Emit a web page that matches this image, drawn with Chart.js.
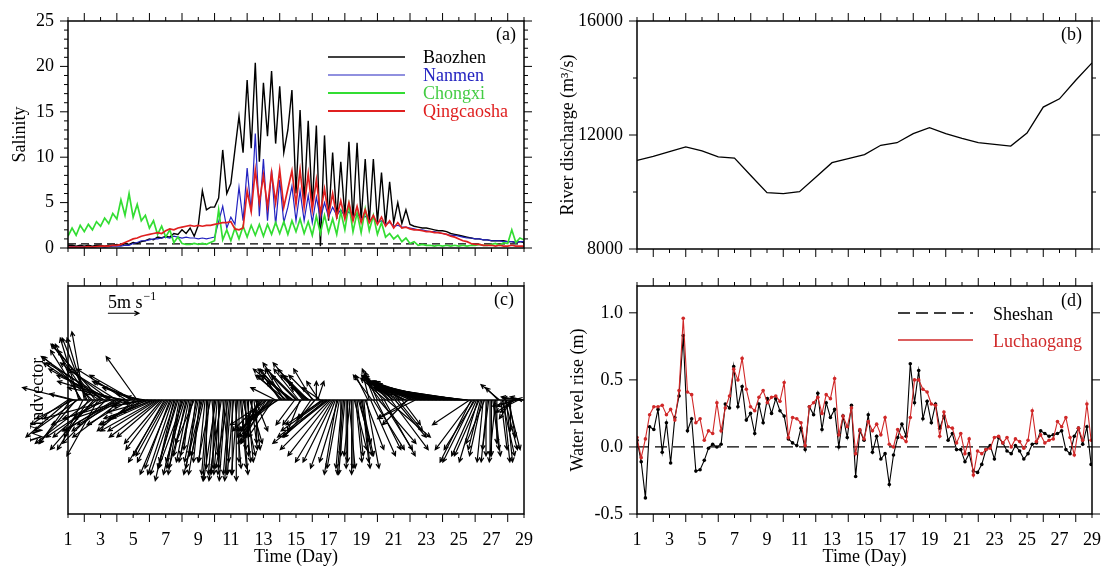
<!DOCTYPE html>
<html><head><meta charset="utf-8">
<script src="https://cdn.jsdelivr.net/npm/chart.js@4"></script>
<style>
html,body{margin:0;padding:0;background:#fff;}
body{width:1102px;height:569px;position:relative;overflow:hidden;}
canvas{position:absolute;}
</style></head><body>
<canvas id="ca" width="551" height="270" style="left:0;top:0"></canvas>
<canvas id="cb" width="551" height="270" style="left:551px;top:0"></canvas>
<canvas id="cc" width="551" height="299" style="left:0;top:270px"></canvas>
<canvas id="cd" width="551" height="299" style="left:551px;top:270px"></canvas>
<script>
// ---------- DATA ----------
const dayLabels = [1,3,5,7,9,11,13,15,17,19,21,23,25,27,29];
const dayMajorTicks = [2,4,6,8,10,12,14,16,18,20,22,24,26,28];
const dayMinorTicks = [1,3,5,7,9,11,13,15,17,19,21,23,25,27,29];

// (a) salinity, 6-hourly from day 1 to day 29
const salTimes = Array.from({length:113}, (_, i) => 1 + i/4);
const baozhen = [0.3,0.3,0.2,0.3, 0.2,0.3,0.2,0.3, 0.3,0.2,0.3,0.3, 0.4,0.3,0.5,0.4, 0.6,0.5,0.7,0.8,
 1.0,0.9,1.2,1.1, 1.3,1.2,1.6,1.5, 2.0,1.6,2.2,1.3, 2.5,6.3,4.2,4.5, 4.5,5.5,10.8,6.0,
 7.1,10.8,14.5,10.5, 18.5,11.0,20.4,9.5, 18.2,12.3,19.5,11.5, 17.8,10.5,13.0,17.4, 6.0,15.2,5.0,14.0,
 4.5,13.5,0.2,12.4, 3.0,10.5,3.2,9.5, 3.5,11.7,3.0,11.6, 3.0,9.8,2.8,9.8, 2.8,8.3,2.6,7.3,
 2.8,5.0,2.7,4.2, 2.6,2.4,2.3,2.2, 2.2,2.1,2.0,1.9, 1.9,1.8,1.6,1.5, 1.4,1.3,1.2,1.1,
 1.0,1.0,0.9,0.9, 0.8,0.8,0.8,0.8, 0.7,0.7,0.6,0.7, 0.6];
const nanmen = [0.1,0.15,0.1,0.15, 0.1,0.15,0.1,0.15, 0.15,0.1,0.15,0.2, 0.2,0.2,0.3,0.3, 0.5,0.6,0.8,0.8,
 0.9,1.0,1.0,1.1, 1.2,1.1,1.3,1.2, 1.1,1.2,1.1,1.1, 1.0,1.1,1.0,1.1, 1.2,2.9,4.6,2.2,
 3.4,2.6,6.7,3.0, 8.8,4.0,12.6,3.5, 9.8,3.0,8.6,2.5, 7.5,2.8,4.5,6.8, 3.0,6.3,3.0,5.8,
 2.8,5.6,3.2,5.0, 3.4,4.5,3.6,4.2, 3.5,4.0,3.4,3.8, 3.2,3.5,3.0,3.3, 2.8,3.0,2.6,2.8,
 2.4,2.5,2.3,2.3, 2.2,2.1,2.0,2.0, 1.9,1.8,1.8,1.7, 1.6,1.5,1.4,1.4, 1.3,1.2,1.1,1.1,
 1.0,1.0,0.9,0.9, 0.8,0.8,0.8,0.7, 0.7,0.7,0.6,0.7, 0.7];
const chongxi = [1.3,2.2,1.4,2.5, 1.8,2.6,2.0,2.9, 2.4,3.3,2.7,3.8, 3.2,5.3,3.6,6.0, 3.4,4.8,3.0,3.6,
 2.2,3.0,1.5,2.4, 1.2,2.0,0.6,1.2, 0.5,0.4,0.4,0.5, 0.4,0.5,0.4,0.6, 0.8,4.2,0.9,2.0,
 0.8,2.2,1.0,2.4, 1.2,2.5,1.4,2.6, 1.3,2.6,1.5,2.8, 1.6,2.9,1.5,3.0, 1.8,3.2,1.6,2.9,
 1.4,3.5,1.6,3.6, 1.7,3.2,1.5,4.0, 2.0,4.8,1.8,3.9, 1.7,4.3,1.9,3.6, 1.5,2.8,1.2,1.6,
 1.0,1.4,0.7,1.1, 0.5,0.7,0.3,0.4, 0.3,0.3,0.2,0.3, 0.2,0.3,0.2,0.3, 0.2,0.3,0.2,0.3,
 0.3,0.4,0.3,0.3, 0.4,0.5,0.3,0.6, 0.5,2.0,0.6,1.1, 0.9];
const qingcaosha = [0.1,0.1,0.1,0.1, 0.1,0.15,0.1,0.15, 0.2,0.2,0.2,0.3, 0.3,0.4,0.6,0.8, 1.0,1.1,1.3,1.4,
 1.5,1.6,1.7,1.6, 1.9,2.1,2.0,2.2, 2.3,2.4,2.5,2.4, 2.5,2.4,2.5,2.5, 2.6,2.7,2.8,2.8,
 2.9,2.1,2.0,2.2, 6.3,4.0,8.6,5.0, 8.0,4.5,8.3,5.0, 8.6,4.5,6.5,8.5, 4.8,8.6,4.5,8.2,
 4.2,7.5,3.8,6.5, 3.6,6.0,3.4,5.2, 3.2,5.0,3.0,4.6, 2.8,4.2,2.8,3.6, 2.6,3.4,2.4,3.0,
 2.2,2.8,2.2,2.3, 2.1,2.0,2.0,1.9, 1.8,1.8,1.7,1.7, 1.6,1.5,1.3,1.2, 1.0,0.8,0.7,0.5,
 0.4,0.4,0.3,0.3, 0.3,0.2,0.3,0.2, 0.2,0.3,0.2,0.2, 0.2];
const salThreshold = 0.45;
const salYLabels = [0,5,10,15,20,25];
const salYMinor = [1,2,3,4,6,7,8,9,11,12,13,14,16,17,18,19,21,22,23,24];

// (b) river discharge, daily
const qDays = [1,2,3,4,5,6,7,8,9,10,11,12,13,14,15,16,17,18,19,20,21,22,23,24,25,26,27,28,29];
const discharge = [11110,11250,11420,11580,11440,11230,11190,10580,9975,9940,10010,10520,11030,11170,
 11310,11640,11730,12050,12260,12050,11880,11730,11670,11610,12070,12980,13270,13920,14530];
const qYLabels = [8000,12000,16000];
const qYMinor = [10000,14000];

// (c) wind vectors, 2-hourly (m/s)
const windTimes = Array.from({length:337}, (_, i) => 1 + i/12);
const windU = [
 -6,-7,-5,-8,-6,-4,-6,-7,-3,-4,-5,-3,
 -2,-3,-4,-5,-6,-9,-8,-7,-6,-7,-5,-9,
 -8,-9,-10,-9,-7,-9,-10,-8,-11,-9,-8,-7,
 -8,-9,-10,-7,-8,-9,-10,-8,-7,-9,-7,-6,
 -7,-6,-7,-5,-6,-6,-4,-5,-5,-3,-4,-4,
 -6,-7,-7,-8,-9,-9,-8,-8,-7,-6,-6,-5,
 -6,-5,-5,-4,-5,-4,-3,-4,-3,-3,-2,-2,
 -3,-4,-3,-2,-3,-2,-1,-2,-2,-3,-1,-2,
 -2,-1,-2,-3,-2,-1,0,-1,-1,-2,1,0,
 -1,-2,-1,0,-1,-2,1,-1,-1,0,-2,-1,
 -1,0,-1,1,0,-1,0,1,1,2,1,0,
 1,0,2,1,-1,1,2,0,-2,-3,-3,-4,
 -5,-4,-4,-6,-5,-5,-3,-4,-6,-4,-5,-5,
 -2,-3,-4,-3,-4,-5,-4,-5,-6,-5,-4,-3,
 -4,-5,-4,-2,-3,-4,-5,-4,-3,-4,-3,-2,
 -3,-4,-5,0,1,-2,-3,-4,-6,-7,-7,-8,
 -9,-8,-7,-6,-5,-4,-2,-3,-2,0,-1,-1,
 -1,0,0,1,-1,0,0,2,1,1,2,2,
 2,1,1,3,2,-2,-1,4,-3,5,-2,4,
 -2,6,-3,5,-3,5,-4,7,-3,-4,6,-3,
 -4,5,-5,4,-5,-4,3,-5,-6,-6,-4,-5,
 -6,-5,-6,-7,-6,-7,-7,-8,-7,-8,-8,-7,
 -8,-9,-9,-8,-9,-9,-10,-10,-9,-10,-10,-11,
 -10,-11,-11,-11,-12,-12,-11,-12,-12,-13,-12,-12,
 -13,-12,-13,-13,-14,-13,-13,-14,-6,-5,-6,-5,
 -5,-4,-3,-4,-2,-2,-1,-3,0,-1,-1,0,
 0,1,1,-1,0,-2,-3,1,2,1,2,1,
 2,1,0,-2,-2,-3,-3,-4,-2,-3,-3,-2,
 -1];
const windV = [
 -4,-6,-7,2,-3,1,-7,-5,10,9,8,-6,
 11,10,10,-8,9,-7,7,-8,8,-6,-9,6,
 9,-6,7,5,-7,-4,6,6,-3,4,-5,-5,
 5,-5,3,-4,-6,2,-3,5,1,-3,-4,3,
 4,-5,3,7,-4,2,1,-3,-1,0.5,-2,-0.5,
 -1,-2,-3,-3,-4,-5,-5,-6,-6,-7,-8,-9,
 -10,-9,-10,-11,-12,-12,-13,-12,-11,-10,-11,-12,
 -12,-11,-10,-9,-11,-10,-8,-10,-9,-7,-9,-10,
 -11,-10,-12,-12,-9,-10,-11,-12,-13,-10,-9,-11,
 -12,-13,-12,-11,-12,-13,-10,-12,-13,-12,-11,-12,
 -13,-12,-12,-11,-13,-12,-10,-11,-12,-9,-10,-8,
 -10,-9,-7,-8,-6,-8,-5,-7,-6,-7,-5,-6,
 -5,-6,-7,-4,-7,-5,-3,-6,-5,2,-4,-3,
 3,4,4,5,5,4,6,5,5,4,3,-4,
 4,5,5,-5,-4,5,6,4,3,4,2,-3,
 5,4,-6,3,3,3,2,-3,-4,-5,-6,-6,
 -7,-8,-9,-10,-10,-11,-12,-10,-11,-9,-11,-12,
 -12,-11,-10,-11,-9,-12,-11,-8,-10,-9,-7,-9,
 -9,-10,-11,-8,-11,4,4,-9,4,-8,5,-8,
 4.5,-7,4,-8,4,-9,3.5,-6,3,4,-8,3,
 3,-6,3.5,-5,3,3,-4,3,3,3,-4,-3,
 3,2,3,3,-3,2.5,2.5,3,2,2.5,2.5,2,
 2.5,3,2.5,2,2,2.5,2.5,2,2,2,2.5,2,
 2,2.5,2,1.5,2,2,2,1.5,2,2,1.5,1.5,
 2,1.5,2,1.5,2,1,1.5,1.5,-4,-10,-8,-10,
 -8,-9,-10,-9,-8,-9,-10,-7,-9,-10,-8,-9,
 -9,-8,-9,-10,-7,2,2.5,-8,-9,-10,-8,-10,
 -8,-6,-5,-3,-2,-2,-1,-1,-1,0.5,0.3,0.5,
 0.2];
const windRef = {t: 3.45, u: 5, v: 14};

// (d) water level rise, every 6.21 h (tidal)
const tideTimes = Array.from({length:109}, (_, i) => 1 + i*6.21/24);
const sheshan = [0.05,-0.11,-0.38,0.15,0.13,0.28,-0.04,0.18,-0.12,0.22,0.38,0.83,0.12,0.21,-0.18,-0.17,-0.10,-0.01,0.02,0.00,
 0.02,0.32,0.29,0.60,0.30,0.45,0.20,0.25,0.10,0.32,0.18,0.36,0.25,0.36,0.27,0.23,0.06,0.03,0.01,0.14,
 -0.02,0.30,0.24,0.40,0.13,0.33,0.22,0.28,0.00,0.23,0.07,0.31,-0.22,0.12,0.05,0.24,-0.04,0.08,-0.09,-0.05,
 -0.28,-0.06,0.07,0.17,0.08,0.62,0.33,0.57,0.21,0.34,0.18,0.32,0.14,0.23,0.05,0.10,-0.02,-0.02,-0.11,-0.05,
 -0.18,-0.19,-0.13,-0.02,0.01,-0.09,0.07,0.03,-0.03,-0.05,0.01,-0.03,-0.09,-0.05,0.02,0.03,0.12,0.10,0.08,0.09,
 0.10,0.12,-0.02,-0.05,0.08,0.14,0.02,0.15,-0.13];
const luchaogang = [0.07,-0.08,0.06,0.24,0.30,0.30,0.31,0.24,0.28,0.20,0.42,0.96,0.41,0.39,0.18,0.21,0.05,0.12,0.10,0.33,
 0.12,0.29,0.38,0.58,0.50,0.66,0.43,0.30,0.27,0.37,0.42,0.33,0.37,0.38,0.34,0.48,0.07,0.22,0.21,0.18,
 0.01,0.30,0.33,0.37,0.25,0.39,0.36,0.51,0.09,0.23,0.15,0.29,-0.05,0.13,0.06,0.19,0.12,0.17,0.09,0.22,
 0.02,0.00,0.13,0.07,0.04,0.22,0.50,0.50,0.43,0.41,0.32,0.31,0.08,0.26,0.15,0.14,0.03,0.10,-0.05,0.06,
 -0.21,-0.03,-0.05,-0.02,-0.01,0.07,0.08,0.03,0.07,0.00,0.06,0.04,-0.01,0.05,0.27,0.04,0.09,0.03,0.05,0.06,
 0.19,0.15,0.22,0.07,-0.06,0.14,0.05,0.32,0.05];
const wlYLabels = [-0.5,0,0.5,1.0];

// ---------- STYLE / HELPERS ----------
const FONT = "'Liberation Serif','Times New Roman',serif";
Chart.defaults.font.family = FONT;
Chart.defaults.font.size = 18;
Chart.defaults.color = '#000';
const BLUE = '#2222c0', GREEN = '#33dd33', RED = '#e02020', RED_D = '#d02828';
const xy = (xs, ys) => xs.map((x, i) => ({x, y: ys[i]}));
const setTicks = arr => s => { s.ticks = arr.map(v => ({value: v})); };

const panelDecor = {
  id: 'panelDecor',
  afterDatasetsDraw(chart, args, o) {
    if (!o.arrows) return;
    const {ctx, scales: {x, y}} = chart;
    const pxPerMs = Math.abs(y.getPixelForValue(1) - y.getPixelForValue(0));
    const arrow = (t, yBase, u, v, lw) => {
      const x0 = x.getPixelForValue(t), y0 = y.getPixelForValue(yBase);
      const x1 = x0 + u * pxPerMs, y1 = y.getPixelForValue(yBase + v);
      const ang = Math.atan2(y1 - y0, x1 - x0), h = 5;
      ctx.lineWidth = lw;
      ctx.beginPath();
      ctx.moveTo(x0, y0); ctx.lineTo(x1, y1);
      ctx.moveTo(x1 - h*Math.cos(ang - 0.45), y1 - h*Math.sin(ang - 0.45));
      ctx.lineTo(x1, y1);
      ctx.lineTo(x1 - h*Math.cos(ang + 0.45), y1 - h*Math.sin(ang + 0.45));
      ctx.stroke();
    };
    ctx.save();
    ctx.strokeStyle = '#000';
    const d = chart.data.datasets.find(ds => ds.wind);
    d.data.forEach(p => arrow(p.x, 0, p.u, p.v, 1.2));
    const r = o.arrows.ref;
    arrow(r.t, r.v, r.u, 0, 1.2);
    ctx.fillStyle = '#000';
    ctx.font = '18px ' + FONT;
    ctx.textBaseline = 'alphabetic';
    const rx = x.getPixelForValue(r.t), ry = y.getPixelForValue(r.v);
    ctx.fillText('5m s', rx, ry - 5);
    const w = ctx.measureText('5m s').width;
    ctx.font = '12px ' + FONT;
    ctx.fillText('\u22121', rx + w + 1, ry - 13);
    ctx.restore();
  },
  afterDraw(chart, args, o) {
    const {ctx, chartArea: ca, scales: {x, y}} = chart;
    ctx.save();
    ctx.strokeStyle = '#000';
    ctx.lineWidth = 1;
    ctx.beginPath();
    const xt = (vals, len) => vals.forEach(v => {
      const p = x.getPixelForValue(v);
      ctx.moveTo(p, ca.top); ctx.lineTo(p, ca.top - len);
      ctx.moveTo(p, ca.bottom); ctx.lineTo(p, ca.bottom + len);
    });
    const yt = (vals, len) => vals.forEach(v => {
      const p = y.getPixelForValue(v);
      ctx.moveTo(ca.left, p); ctx.lineTo(ca.left - len, p);
      ctx.moveTo(ca.right, p); ctx.lineTo(ca.right + len, p);
    });
    xt(o.xMajor || [], 8); xt(o.xMinor || [], 4);
    yt(o.yMajor || [], 8); yt(o.yMinor || [], 4);
    ctx.stroke();
    ctx.lineWidth = 1.5;
    ctx.strokeRect(ca.left, ca.top, ca.width, ca.height);
    ctx.font = '18px ' + FONT;
    ctx.textBaseline = 'middle';
    (o.texts || []).forEach(t => {
      ctx.fillStyle = t.color || '#000';
      ctx.textAlign = t.align || 'left';
      ctx.fillText(t.text, t.x, t.y);
    });
    (o.lines || []).forEach(l => {
      ctx.strokeStyle = l.color; ctx.lineWidth = l.width;
      ctx.setLineDash(l.dash || []);
      ctx.beginPath(); ctx.moveTo(l.x0, l.y); ctx.lineTo(l.x1, l.y); ctx.stroke();
    });
    ctx.restore();
  }
};

const base = (padding) => ({
  responsive: false, animation: false, events: [],
  layout: {padding},
  elements: {point: {radius: 0}, line: {tension: 0}},
  plugins: {legend: {display: false}, tooltip: {enabled: false}}
});
const yAxis = (width, min, max, labels, title, titlePad, fmt) => ({
  type: 'linear', min, max,
  afterFit: s => { s.width = width; s.paddingTop = 0; s.paddingBottom = 0; },
  afterBuildTicks: setTicks(labels),
  ticks: {padding: 14, display: labels.length > 0, callback: fmt || (v => v)},
  grid: {display: false, drawTicks: false},
  border: {display: false},
  title: {display: true, text: title, padding: {top: titlePad, bottom: 0}}
});
const xBottom = () => ({
  type: 'linear', min: 1, max: 29,
  afterFit: s => { s.height = 55; s.paddingLeft = 0; s.paddingRight = 0; },
  afterBuildTicks: setTicks(dayLabels),
  ticks: {padding: 17, font: {size: 18, lineHeight: 1}, autoSkip: false, maxRotation: 0},
  grid: {display: false, drawTicks: false},
  border: {display: false},
  title: {display: true, text: 'Time (Day)', font: {size: 18, lineHeight: 1}, padding: {top: 0, bottom: 3}}
});

// ---------- (a) ----------
const oa = base({left: 0, top: 21, right: 27, bottom: 22});
oa.scales = {
  x: {type: 'linear', min: 1, max: 29, display: false},
  y: yAxis(68, 0, 25, salYLabels, 'Salinity', 9)
};
oa.plugins.panelDecor = {
  xMajor: dayMajorTicks, xMinor: dayMinorTicks, yMajor: salYLabels, yMinor: salYMinor,
  texts: [
    {text: '(a)', x: 516, y: 35, align: 'right'},
    {text: 'Baozhen', x: 423, y: 58.5},
    {text: 'Nanmen', x: 423, y: 76.5, color: BLUE},
    {text: 'Chongxi', x: 423, y: 94.5, color: '#44cc44'},
    {text: 'Qingcaosha', x: 423, y: 112.5, color: RED}
  ],
  lines: [
    {x0: 328, x1: 405, y: 57, color: '#000', width: 1.3},
    {x0: 328, x1: 405, y: 75, color: BLUE, width: 1.1},
    {x0: 328, x1: 405, y: 93, color: GREEN, width: 2},
    {x0: 328, x1: 405, y: 111, color: RED, width: 2}
  ]
};
new Chart(document.getElementById('ca'), {
  type: 'line',
  data: {datasets: [
    {label: 'Qingcaosha', data: xy(salTimes, qingcaosha), borderColor: RED, borderWidth: 1.7, order: 1},
    {label: 'Chongxi', data: xy(salTimes, chongxi), borderColor: GREEN, borderWidth: 1.7, order: 2},
    {label: 'Nanmen', data: xy(salTimes, nanmen), borderColor: BLUE, borderWidth: 1.2, order: 3},
    {label: 'Baozhen', data: xy(salTimes, baozhen), borderColor: '#000', borderWidth: 1.4, order: 4},
    {label: 'threshold', data: [{x: 1, y: salThreshold}, {x: 29, y: salThreshold}], borderColor: '#000', borderWidth: 1.2, borderDash: [8, 5], order: 5}
  ]},
  options: oa, plugins: [panelDecor]
});

// ---------- (b) ----------
const ob = base({left: 0, top: 21, right: 10, bottom: 21});
ob.scales = {
  x: {type: 'linear', min: 1, max: 29, display: false},
  y: yAxis(86, 8000, 16000, qYLabels, 'River discharge (m\u00B3/s)', 6)
};
ob.plugins.panelDecor = {
  xMajor: dayMajorTicks, xMinor: dayMinorTicks, yMajor: qYLabels, yMinor: qYMinor,
  texts: [{text: '(b)', x: 531, y: 35, align: 'right'}]
};
new Chart(document.getElementById('cb'), {
  type: 'line',
  data: {datasets: [
    {label: 'discharge', data: xy(qDays, discharge), borderColor: '#000', borderWidth: 1.3}
  ]},
  options: ob, plugins: [panelDecor]
});

// ---------- (c) ----------
const oc = base({left: 0, top: 16, right: 27, bottom: 0});
oc.scales = {
  x: xBottom(),
  y: yAxis(68, -18.4, 18.4, [], 'Windvector', 27)
};
oc.plugins.panelDecor = {
  xMajor: dayMajorTicks, xMinor: dayMinorTicks,
  arrows: {ref: windRef},
  texts: [{text: '(c)', x: 514, y: 30, align: 'right'}]
};
new Chart(document.getElementById('cc'), {
  type: 'line',
  data: {datasets: [
    {label: 'baseline', data: [{x: 1, y: 0}, {x: 29, y: 0}], borderColor: '#000', borderWidth: 1.4},
    {label: 'wind', wind: true, showLine: false, data: windTimes.map((t, i) => ({x: t, y: 0, u: windU[i], v: windV[i]}))}
  ]},
  options: oc, plugins: [panelDecor]
});

// ---------- (d) ----------
const od = base({left: 0, top: 16, right: 10, bottom: 0});
od.scales = {
  x: xBottom(),
  y: yAxis(86, -0.5, 1.2, wlYLabels, 'Water level rise (m)', 16, v => Number(v).toFixed(1))
};
od.plugins.panelDecor = {
  xMajor: dayMajorTicks, xMinor: dayMinorTicks, yMajor: wlYLabels,
  texts: [
    {text: '(d)', x: 531, y: 31, align: 'right'},
    {text: 'Sheshan', x: 442, y: 45},
    {text: 'Luchaogang', x: 442, y: 72, color: RED_D}
  ],
  lines: [
    {x0: 347, x1: 422, y: 43, color: '#000', width: 1.3, dash: [12, 6]},
    {x0: 347, x1: 422, y: 70, color: RED_D, width: 1.3}
  ]
};
new Chart(document.getElementById('cd'), {
  type: 'line',
  data: {datasets: [
    {label: 'Luchaogang', data: xy(tideTimes, luchaogang), borderColor: RED_D, backgroundColor: RED_D, borderWidth: 1.1, pointRadius: 1.8, pointBorderWidth: 0, order: 1},
    {label: 'Sheshan', data: xy(tideTimes, sheshan), borderColor: '#000', backgroundColor: '#000', borderWidth: 1.1, pointRadius: 1.8, pointBorderWidth: 0, order: 2},
    {label: 'zero', data: [{x: 1, y: 0}, {x: 29, y: 0}], borderColor: '#000', borderWidth: 1.3, borderDash: [12, 6], order: 3}
  ]},
  options: od, plugins: [panelDecor]
});
</script>
</body></html>
